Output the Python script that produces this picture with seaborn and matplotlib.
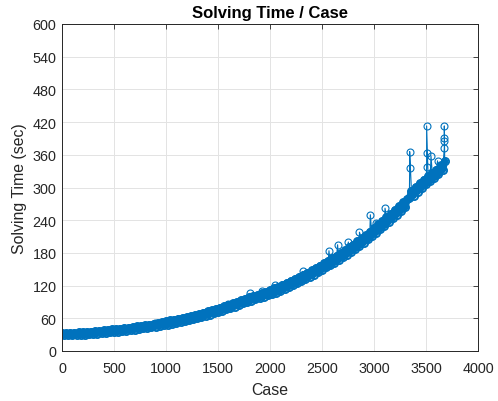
import numpy as np
import pandas as pd
import matplotlib
matplotlib.use("Agg")
import matplotlib.pyplot as plt
import seaborn as sns

# Solving time of each case, sampled every 20 cases (case 0 .. 3680)
case_step = 20
solve_time = [
    33.0, 29.0, 32.5, 28.8, 33.2,
    28.6, 33.5, 29.2, 34.0, 29.5,
    34.6, 29.5, 35.0, 30.4, 35.6,
    31.0, 36.4, 31.8, 37.0, 32.6,
    38.0, 33.2, 38.8, 34.0, 39.6,
    35.0, 40.4, 35.6, 41.2, 36.6,
    42.2, 37.2, 43.0, 38.4, 44.0,
    39.4, 45.0, 40.4, 46.2, 41.4,
    47.2, 42.4, 48.4, 43.6, 49.6,
    44.8, 51.0, 46.2, 52.4, 47.6,
    54.4, 48.4, 56.0, 50.0, 57.6,
    51.6, 59.4, 53.2, 61.0, 54.8,
    62.4, 56.4, 64.2, 58.2, 66.0,
    60.2, 68.0, 62.2, 70.2, 64.6,
    72.6, 66.6, 75.0, 69.0, 77.4,
    71.4, 79.8, 73.8, 82.2, 76.2,
    84.6, 78.8, 87.4, 81.6, 90.2,
    84.4, 93.0, 87.2, 95.8, 90.0,
    98.6, 92.6, 101.0, 95.0, 103.4,
    97.4, 105.8, 99.8, 108.2, 102.2,
    111.8, 104.0, 115.0, 107.0, 118.2,
    110.2, 121.6, 113.8, 125.2, 117.4,
    128.8, 121.0, 132.4, 124.6, 136.0,
    128.2, 139.8, 132.2, 143.8, 136.2,
    148.0, 140.2, 152.4, 144.6, 156.8,
    149.0, 161.2, 153.4, 165.6, 157.8,
    170.2, 162.2, 175.0, 167.0, 179.8,
    171.8, 184.8, 177.0, 190.0, 182.2,
    195.4, 187.6, 201.0, 193.2, 206.6,
    198.4, 212.8, 204.6, 219.2, 211.0,
    226.0, 217.2, 232.4, 223.6, 238.8,
    230.0, 245.4, 236.8, 252.2, 243.6,
    259.0, 250.4, 265.8, 257.2, 272.6,
    264.0, 279.0, 280.0, 294.0, 285.0,
    301.0, 292.4, 307.8, 299.2, 314.6,
    306.0, 321.0, 312.0, 327.0, 318.0,
    333.0, 325.0, 340.5, 332.0, 348.0,
]

# Slow cases that stand out above the main trend
slow_cases = [894, 1600, 1808, 1920, 2048, 2314, 2567, 2650, 2753, 2860,
              2965, 3020, 3106, 3343, 3343, 3506, 3506, 3506, 3548, 3611,
              3676, 3676, 3676, 3676]
slow_times = [52, 87, 106, 111, 122, 146, 184, 195, 200, 218,
              250, 234, 262, 336, 366, 337, 363, 413, 358, 349,
              372, 385, 390, 413]

x_ticks = list(range(0, 4001, 500))
y_ticks = list(range(0, 601, 60))

base = pd.DataFrame({
    "case": np.arange(len(solve_time)) * case_step,
    "time": solve_time,
})
extra = pd.DataFrame({"case": slow_cases, "time": slow_times})
df = (pd.concat([base, extra], ignore_index=True)
        .sort_values(["case", "time"], kind="mergesort")
        .reset_index(drop=True))

sns.set_style("white")
plt.rcParams["font.family"] = ["Liberation Sans", "DejaVu Sans"]

color = "#0072BD"
fig = plt.figure(figsize=(4.98, 4.02), dpi=100)
ax = fig.add_axes([62 / 498, 50 / 402, 416 / 498, 327 / 402])

# dense run of cases: a heavy trace so the overlapping markers read as a band
sns.lineplot(data=base, x="case", y="time", sort=False, estimator=None,
             ax=ax, color=color, linewidth=5.0, marker="o",
             markersize=5.2, markerfacecolor="none",
             markeredgecolor=color, markeredgewidth=1.2,
             solid_joinstyle="round", solid_capstyle="round")
# every case in order, thin connecting line with open circles
sns.lineplot(data=df, x="case", y="time", sort=False, estimator=None,
             ax=ax, color=color, linewidth=0.8, marker="o",
             markersize=5.0, markerfacecolor="none",
             markeredgecolor=color, markeredgewidth=0.8)

ax.set_xlim(0, 4000)
ax.set_ylim(0, 600)
ax.set_xticks(x_ticks)
ax.set_yticks(y_ticks)
ax.tick_params(axis="x", pad=7.5)
ax.tick_params(axis="y", pad=4)
ax.tick_params(direction="in", length=3.5, width=0.6, top=True, right=True,
               labelsize=10.4, colors="#262626")
ax.grid(True, color="#e3e3e3", linewidth=0.7)
ax.set_axisbelow(True)
for s in ax.spines.values():
    s.set_visible(True)
    s.set_color("#262626")
    s.set_linewidth(0.7)

ax.set_xlabel("Case", fontsize=11.4, color="#262626", labelpad=5)
ax.set_ylabel("Solving Time (sec)", fontsize=11.4, color="#262626", labelpad=4)
ax.set_title("Solving Time / Case", fontsize=12, fontweight="bold",
             color="black", pad=5)

fig.savefig("out.png", dpi=100, facecolor="white")
